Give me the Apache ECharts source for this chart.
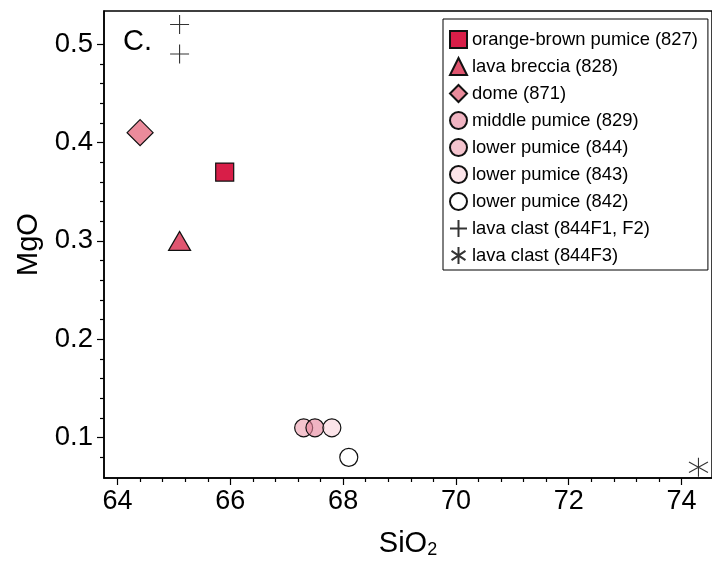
<!DOCTYPE html>
<html lang="en">
  <head>
    <meta charset="UTF-8" />
    <title>MgO vs SiO2</title>
    <script src="https://cdn.jsdelivr.net/npm/echarts@6.0.0/dist/echarts.min.js"></script>
    <style>
      html, body { margin: 0; padding: 0; background: #fff; }
    </style>
  </head>

  <body>
    <div id="main" style="width: 712px; height: 564px"></div>

    <script type="text/javascript">
      // points, [SiO2, MgO]
      const orangeBrown827 = [[65.9, 0.37]];
      const lavaBreccia828 = [[65.1, 0.3]];
      const dome871 = [[64.4, 0.41]];
      const middlePumice829 = [[67.5, 0.11]];
      const lowerPumice844 = [[67.3, 0.11]];
      const lowerPumice843 = [[67.8, 0.11]];
      const lowerPumice842 = [[68.1, 0.08]];
      const lavaClastF1F2 = [[65.1, 0.52], [65.1, 0.49]];
      const lavaClastF3 = [[74.3, 0.07]];

      // tick marks
      const sio2Ticks = [64, 66, 68, 70, 72, 74];
      const sio2Minor = [64.4, 64.8, 65.2, 65.6, 66.4, 66.8, 67.2, 67.6, 68.4, 68.8, 69.2, 69.6,
                         70.4, 70.8, 71.2, 71.6, 72.4, 72.8, 73.2, 73.6];
      const mgoTicks = [0.1, 0.2, 0.3, 0.4, 0.5];
      const mgoMinor = [0.08, 0.12, 0.14, 0.16, 0.18, 0.22, 0.24, 0.26, 0.28, 0.32, 0.34, 0.36, 0.38,
                        0.42, 0.44, 0.46, 0.48];

      const font = "'Liberation Sans', Arial, Helvetica, sans-serif";
      const plusPath = "path://M10,0L10,20M0,10L20,10";
      const starPath = "path://M10,0L10,20M1.8,4.5L18.2,15.5M18.2,4.5L1.8,15.5";

      function dot(name, data, color, symbol, size) {
        return {
          name: name,
          type: "scatter",
          data: data,
          symbol: symbol,
          symbolSize: size,
          itemStyle: { color: color, borderColor: "#111", borderWidth: 1.2, opacity: 1 },
          emphasis: { disabled: true },
        };
      }

      const xRange = { min: 63.76, max: 74.54 };
      const yRange = { min: 0.059, max: 0.5337 };

      let options = {
        animation: false,
        backgroundColor: "#fff",
        title: {
          text: "C.",
          left: 118,
          top: 22,
          textStyle: { fontFamily: font, fontSize: 29, fontWeight: "normal", color: "#000" },
        },
        grid: {
          left: 104,
          top: 11,
          right: -4,
          bottom: 84,
          show: true,
          borderColor: "#000",
          borderWidth: 1.5,
        },
        legend: {
          orient: "vertical",
          left: 443,
          top: 19,
          padding: [11, 10, 5, 6],
          itemWidth: 17,
          itemHeight: 17,
          itemGap: 8,
          borderColor: "#000",
          borderWidth: 1,
          backgroundColor: "#fff",
          textStyle: { fontFamily: font, fontSize: 18.4, color: "#000" },
          data: [
            "orange-brown pumice (827)",
            "lava breccia (828)",
            "dome (871)",
            "middle pumice (829)",
            "lower pumice (844)",
            "lower pumice (843)",
            "lower pumice (842)",
            "lava clast (844F1, F2)",
            "lava clast (844F3)",
          ],
        },
        xAxis: [
          {
            type: "value",
            ...xRange,
            position: "bottom",
            axisLine: { lineStyle: { color: "#000", width: 1.5 } },
            axisTick: { length: 7, customValues: sio2Ticks, lineStyle: { color: "#000", width: 1.2 } },
            axisLabel: { customValues: sio2Ticks, fontFamily: font, fontSize: 27, color: "#000", margin: 10 },
            splitLine: { show: false },
            name: "{a|SiO}{b|2}",
            nameLocation: "middle",
            nameGap: 50,
            nameTextStyle: {
              color: "#000",
              rich: {
                a: { fontFamily: font, fontSize: 29, color: "#000" },
                b: { fontFamily: font, fontSize: 18, color: "#000", padding: [13, 0, 0, 0] },
              },
            },
          },
          {
            type: "value",
            ...xRange,
            position: "bottom",
            axisLine: { show: false },
            axisTick: { length: 4, customValues: sio2Minor, lineStyle: { color: "#000", width: 1.2 } },
            axisLabel: { show: false },
            splitLine: { show: false },
          },
        ],
        yAxis: [
          {
            type: "value",
            ...yRange,
            position: "left",
            axisLine: { show: true, lineStyle: { color: "#000", width: 1.5 } },
            axisTick: { show: true, length: 7, customValues: mgoTicks, lineStyle: { color: "#000", width: 1.2 } },
            axisLabel: { customValues: mgoTicks, fontFamily: font, fontSize: 27.5, color: "#000", margin: 11 },
            splitLine: { show: false },
            name: "MgO",
            nameLocation: "middle",
            nameGap: 59,
            nameTextStyle: { fontFamily: font, fontSize: 29, color: "#000" },
          },
          {
            type: "value",
            ...yRange,
            position: "left",
            axisLine: { show: false },
            axisTick: { show: true, length: 4, customValues: mgoMinor, lineStyle: { color: "#000", width: 1.2 } },
            axisLabel: { show: false },
            splitLine: { show: false },
          },
        ],
        series: [
          dot("orange-brown pumice (827)", orangeBrown827, "#d81e48", "rect", 18),
          dot("lava breccia (828)", lavaBreccia828, "#e05670", "triangle", [22, 19]),
          dot("dome (871)", dome871, "#ea8b9b", "diamond", 26),
          dot("lower pumice (844)", lowerPumice844, "rgba(237,157,173,0.6)", "circle", 18),
          dot("middle pumice (829)", middlePumice829, "rgba(230,130,153,0.6)", "circle", 18),
          dot("lower pumice (843)", lowerPumice843, "rgba(250,210,218,0.6)", "circle", 18),
          dot("lower pumice (842)", lowerPumice842, "#ffffff", "circle", 18),
          {
            name: "lava clast (844F1, F2)",
            type: "scatter",
            data: lavaClastF1F2,
            symbol: plusPath,
            symbolSize: 19,
            itemStyle: { color: "transparent", borderColor: "#000", borderWidth: 1.1 },
            emphasis: { disabled: true },
          },
          {
            name: "lava clast (844F3)",
            type: "scatter",
            data: lavaClastF3,
            symbol: starPath,
            symbolSize: 19,
            itemStyle: { color: "transparent", borderColor: "#000", borderWidth: 1.1 },
            emphasis: { disabled: true },
          },
        ],
      };

      let myChart = echarts.init(document.getElementById("main"));
      myChart.setOption(options);
    </script>
  </body>
</html>
